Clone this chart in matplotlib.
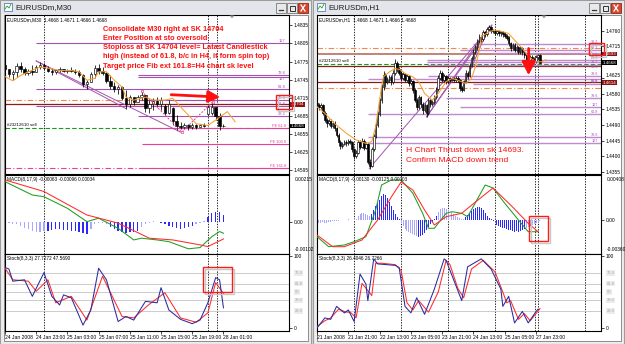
import matplotlib
matplotlib.use("Agg")
import matplotlib.pyplot as plt
from matplotlib.patches import Rectangle, Polygon

plt.rcParams['font.family'] = ['Liberation Sans', 'DejaVu Sans']

W, H = 625, 344

# ---------------- M30 chart (left) ----------------
m30_open = [14770,14762,14754,14757,14768,14762,14756,14760,14758,14766,
            14770,14764,14760,14757,14761,14763,14760,14761,14759,14757,
            14752,14738,14741,14755,14765,14760,14756,14742,14735,14730,
            14732,14715,14705,14716,14708,14716,14719,14698,14705,14710,
            14704,14702,14690,14698,14676,14668,14666,14670,14666,14669,
            14667,14669,14688,14690,14700,14685,14668]
m30_close = [14762,14754,14758,14768,14762,14756,14760,14758,14766,14770,
             14764,14760,14757,14761,14763,14760,14761,14759,14757,14752,
             14738,14741,14755,14765,14760,14756,14742,14735,14730,14732,
             14715,14705,14716,14708,14716,14719,14698,14705,14710,14704,
             14712,14690,14705,14676,14668,14666,14670,14666,14669,14667,
             14669,14668,14700,14700,14685,14668,14668]
m30_high = [14777,14763,14761,14772,14775,14766,14763,14769,14769,14775,
            14772,14767,14763,14763,14766,14763,14763,14766,14763,14761,
            14755,14744,14758,14769,14771,14766,14758,14753,14741,14736,
            14734,14728,14720,14716,14720,14725,14720,14711,14714,14716,
            14716,14705,14711,14700,14686,14675,14673,14671,14673,14672,
            14672,14673,14703,14707,14700,14689,14671]
m30_low = [14758,14750,14744,14750,14758,14753,14753,14753,14758,14763,
           14761,14758,14753,14755,14758,14758,14756,14758,14755,14750,
           14733,14730,14741,14747,14755,14753,14739,14730,14725,14722,
           14711,14697,14700,14703,14708,14711,14692,14689,14694,14700,
           14694,14686,14688,14670,14662,14664,14664,14662,14664,14664,
           14666,14666,14686,14686,14678,14662,14666]
m30_ma_idx = [0,2,4,6,9,12,14,17,19,21,23,24,26,28,30,31,33,36,38,41,43,45,47,49,52,54,57,59]
m30_ma = [14750,14743,14752,14758,14766,14763,14760,14760,14758,14744,14747,14758,14758,14744,
          14733,14716,14711,14716,14711,14711,14714,14700,14686,14672,14669,14678,14692,14675]

m30_hist = [-0.00003,-0.00005,-0.0001,-0.00008,
            -0.00018,-0.00025,-0.0003,-0.00035,-0.0004,-0.0004,-0.00038,
            -0.00035,-0.00032,-0.0003,-0.0003,-0.00032,-0.00034,-0.00035,-0.00038,-0.0004,-0.00045,
            -0.0005,
            -0.0003,-0.0001,-0.00005,-0.00005,-0.0001,
            -0.0002,-0.00028,-0.00035,-0.0004,-0.00045,-0.00042,-0.0004,-0.00035,
            -0.0002,-0.0001,-0.00003,0.00002,0.00001,
            -0.00005,-0.0001,-0.00015,-0.0002,-0.00025,-0.00028,-0.00025,-0.0002,
            -0.00015,-0.0001,-0.00005,0.00003,
            0.0002,0.00035,0.00042,0.0004,0.0003]
m30_macd_idx = [0,7,10,16,21,24,29,33,35,39,42,47,50,53,55,56]
m30_macd = [0.00163,0.00109,0.00102,0.00055,0.00001,0.00015,-0.00026,-0.00073,
            -0.00066,-0.00073,-0.0008,-0.00109,-0.00104,-0.0006,-0.00039,-0.00046]
m30_sig_idx = [0,10,21,29,37,43,50,52,56]
m30_sig = [0.0017,0.00123,0.00028,-0.00005,-0.00066,-0.00073,-0.00093,-0.001,-0.00069]

m30_k_idx = [0,1,2,5,7,10,12,14,15,17,20,22,24,26,29,31,33,36,39,40,42,45,48,50,52,54,55,56]
m30_k = [84,82,65,67,44,77,44,32,46,42,4,25,83,67,9,16,11,37,35,56,25,12,6,11,35,70,67,28]
m30_d_idx = [0,2,6,8,11,13,17,21,25,30,33,37,41,45,49,52,54,56]
m30_d = [83,67,65,51,67,35,44,11,72,16,14,33,49,14,8,21,63,48]

m30_ticks = [0, 8, 16, 24, 32, 40, 48, 56]
m30_tick_labels = ["24 Jan 2008", "24 Jan 23:00", "25 Jan 03:00", "25 Jan 07:00",
                   "25 Jan 11:00", "25 Jan 15:00", "25 Jan 19:00", "28 Jan 01:00"]
m30_vlines = [10, 52, 54.3]
m30_yticks = [1.4595, 1.4625, 1.4655, 1.4685, 1.4715, 1.4745, 1.4775, 1.4805, 1.4835]

# fib levels: price, start bar, label, label placement
m30_fib = [(1.4806, 8, "127", 'bottom'), (1.4753, 34, "78.6", 'bottom'), (1.4750, 34, "127", 'top'),
           (1.4730, 8, "61.8", 'bottom'), (1.4712, 34, "78.6", 'bottom'), (1.4701, 8, "61.8", 'bottom'),
           (1.4684, 34, "38.2", 'bottom')]
m30_fe = [(1.4665, 35, "FE 61.8"), (1.4639, 35, "FE 100.0"), (1.4599, 35, "FE 161.8")]

# ---------------- H1 chart (right) ----------------
h1_open = [14552,14548,14540,14546,14525,14505,14495,14500,14486,14495,
           14480,14462,14442,14430,14436,14441,14437,14445,14440,14420,
           14402,14410,14440,14428,14445,14425,14435,14385,14372,14420,
           14458,14490,14522,14560,14598,14632,14612,14620,14626,14614,
           14640,14668,14650,14640,14624,14636,14620,14630,14610,14616,
           14590,14562,14540,14570,14550,14532,14546,14524,14560,14550,
           14556,14570,14592,14625,14640,14620,14630,14615,14625,14620,
           14622,14618,14625,14620,14596,14590,14615,14640,14630,14660,
           14682,14700,14712,14730,14742,14736,14755,14750,14765,14770,
           14760,14760,14754,14758,14752,14755,14750,14744,14740,14724,
           14710,14720,14705,14712,14700,14710,14698,14690,14680,14670,
           14685,14680,14672,14685,14690]
h1_close = [14548,14540,14546,14525,14505,14495,14500,14486,14495,14480,
            14462,14442,14430,14436,14441,14437,14445,14440,14420,14402,
            14410,14440,14428,14445,14425,14435,14385,14372,14420,14458,
            14490,14522,14560,14598,14632,14612,14620,14626,14614,14640,
            14668,14650,14640,14624,14636,14620,14630,14610,14616,14590,
            14562,14540,14570,14550,14532,14546,14524,14560,14550,14556,
            14570,14592,14625,14640,14620,14630,14615,14625,14620,14622,
            14618,14625,14620,14596,14590,14615,14640,14630,14660,14682,
            14700,14712,14730,14742,14736,14755,14750,14765,14770,14760,
            14760,14754,14758,14752,14755,14750,14744,14740,14724,14710,
            14720,14705,14712,14700,14710,14698,14690,14680,14670,14685,
            14680,14672,14685,14690,14668]
h1_high = [14560,14554,14552,14550,14530,14510,14508,14506,14502,14500,
           14485,14466,14448,14442,14447,14446,14450,14450,14444,14425,
           14418,14446,14448,14452,14450,14442,14438,14392,14426,14465,
           14498,14530,14568,14606,14645,14638,14628,14634,14632,14648,
           14680,14672,14656,14645,14642,14640,14636,14634,14622,14620,
           14595,14568,14576,14574,14555,14552,14550,14566,14565,14562,
           14576,14598,14632,14646,14644,14636,14634,14630,14628,14627,
           14626,14630,14629,14623,14602,14620,14646,14645,14666,14688,
           14708,14720,14737,14750,14748,14762,14760,14772,14777,14774,
           14766,14764,14763,14762,14760,14759,14755,14750,14744,14728,
           14726,14724,14718,14716,14716,14714,14702,14694,14685,14690,
           14689,14684,14690,14694,14693]
h1_low = [14540,14534,14535,14518,14498,14485,14490,14480,14482,14472,
          14455,14430,14422,14425,14432,14430,14433,14434,14412,14392,
          14396,14406,14420,14424,14418,14420,14378,14365,14368,14415,
          14452,14484,14515,14552,14590,14600,14606,14612,14605,14608,
          14634,14642,14632,14615,14618,14612,14614,14602,14604,14582,
          14555,14532,14535,14542,14522,14526,14513,14518,14542,14545,
          14550,14565,14586,14618,14612,14614,14608,14610,14614,14615,
          14612,14613,14612,14588,14583,14586,14610,14622,14626,14655,
          14676,14694,14706,14725,14728,14730,14742,14746,14758,14752,
          14752,14747,14748,14745,14746,14743,14738,14732,14716,14702,
          14705,14698,14700,14692,14694,14690,14682,14672,14664,14666,
          14674,14666,14668,14680,14666]
h1_ma_idx = [0,4,9,15,20,25,28,30,33,34,37,40,43,45,49,52,55,59,62,66,69,72,76,79,81,83,84,88,91,95,98,101,105,108,112,115,117]
h1_ma = [14542,14523,14494,14466,14447,14437,14442,14485,14600,14628,14642,14652,14647,14637,
         14628,14614,14580,14561,14580,14614,14623,14618,14609,14623,14657,14705,14743,14757,
         14762,14757,14752,14733,14709,14686,14671,14671,14677]

h1_hist = [-0.0002,-0.0003,-0.0003,-0.0002,-0.0003,-0.0003,-0.0002,-0.0002,-0.0001,-0.0001,-0.00005,-0.0001,
           0.00005,0,0.00005,0,0.0001,0.00005,0,0.0001,0.00015,
           0.0004,0.0006,0.0007,0.0007,0.0006,0.0005,0.0004,
           0.0006,0.0010,0.0014,0.0017,0.0020,0.0024,0.0026,0.0025,0.0022,0.0018,
           0.0014,0.001,0.0006,0.0003,0.0001,
           -0.0003,-0.0006,-0.0009,-0.0011,-0.0012,-0.0013,-0.0014,-0.0015,-0.0016,-0.0017,
           -0.0016,-0.0015,-0.0013,-0.001,-0.0007,
           -0.0004,-0.0002,0.0001,0.0004,
           0.0008,0.0011,0.0012,0.0012,0.0011,0.0010,0.0009,0.0008,0.0006,
           0.0004,0.0003,0.0002,0.0001,0.0001,
           0.0003,0.0005,0.0007,0.0009,0.0011,0.0012,0.0013,0.0013,0.0012,0.0010,
           0.0007,0.0004,0.0002,0.0001,-0.0001,
           -0.0003,-0.0005,-0.0006,-0.0007,-0.0008,-0.0008,-0.0009,-0.001,-0.001,-0.0011,
           -0.0012,-0.0011,-0.0012,-0.0011,-0.001,-0.0009,
           -0.0008,-0.0007,-0.0006,-0.0005,-0.0004,-0.0003,-0.0002,-0.0001]
h1_macd_idx = [0,6,14,19,25,30,33,38,43,49,54,57,60,66,69,74,77,86,90,96,103,108,113]
h1_macd = [-0.00167,-0.00267,-0.0025,-0.00217,-0.00167,0.001,0.0035,0.004,0.004,0.00267,0.00067,
           -0.00083,-0.00083,0.00067,0.00083,0.00067,0.00033,0.0035,0.0032,0.00167,0,-0.00117,-0.00117]
h1_sig_idx = [0,8,14,23,31,38,43,49,55,60,66,74,81,90,100,108,113]
h1_sig = [-0.0015,-0.00267,-0.00267,-0.002,0,0.0023,0.0038,0.003,0.001,-0.0005,0.00033,
          0.00067,0.0018,0.0032,0.0013,-0.00033,-0.00117]

h1_k_idx = [0,4,7,10,14,16,19,22,25,26,29,31,40,42,45,48,51,55,60,65,66,71,74,77,84,89,94,95,98,101,105,108,112,113]
h1_k = [0,14,12,30,21,25,9,75,61,38,96,89,87,84,30,21,42,19,54,96,94,59,38,85,96,82,54,30,44,7,23,7,23,26]
h1_d_idx = [0,4,7,11,15,17,20,23,26,28,30,33,40,43,46,49,52,57,62,66,68,72,75,79,85,91,95,97,99,103,106,109,112,114]
h1_d = [2,10,14,26,22,22,14,62,52,45,90,90,88,80,35,25,38,22,50,94,88,55,42,82,94,78,50,35,38,12,20,10,20,27]

h1_ticks = [0, 16, 32, 48, 64, 80, 96, 112]
h1_tick_labels = ["21 Jan 2008", "21 Jan 21:00", "22 Jan 13:00", "23 Jan 05:00",
                  "23 Jan 21:00", "24 Jan 13:00", "25 Jan 05:00", "27 Jan 23:00"]
h1_vlines = [19, 43, 67, 91, 111.5, 113, 137]
# 1.4670 is hidden behind the current-price box in the reference
h1_yticks = [1.4355, 1.4400, 1.4445, 1.4490, 1.4535, 1.4580, 1.4625, 1.4715, 1.4760]

h1_fib = [(1.4723, 80, "38.2", 'bottom'), (1.4706, 73, "38.2", 'bottom'), (1.4695, 90, "61.8", 'top'),
          (1.4676, 56, "23.6", 'bottom'), (1.4670, 56, "38.2", 'center'), (1.4663, 56, "50.0", 'top'),
          (1.4630, 57, "78.6", 'bottom'), (1.4622, 26, "50.0", 'top'), (1.4606, 80, "61.8", 'bottom'),
          (1.4568, 66, "78.6", 'bottom'), (1.4540, 73, "127", 'bottom'), (1.4521, 26, "61.8", 'bottom'),
          (1.4454, 26, "78.6", 'bottom'), (1.4439, 26, "127", 'bottom')]

stoch_levels = [23.6, 38.2, 50, 61.8, 76.4]

PURPLE = '#a452b0'
LPURPLE = '#c08ad0'
PINK = '#e8409c'
ORANGE = '#f4884a'
BROWN = '#8c1c1c'
GREEN = '#12a012'


def p(v):
    return [x / 10000 for x in v]


fig = plt.figure(figsize=(6.25, 3.44), dpi=100)
fig.patch.set_facecolor('#d6d6d6')


def px_axes(x, y, w, h):
    return fig.add_axes([x / W, 1 - (y + h) / H, w / W, h / H])


# window chrome
bg = px_axes(0, 0, W, H)
bg.set_xlim(0, W)
bg.set_ylim(H, 0)
bg.axis('off')


def window(x0, x1, title):
    w = x1 - x0
    bg.add_patch(Rectangle((x0, 0), w, H, fc='#ededed', ec='#9c9c9c', lw=0.8))
    bg.add_patch(Rectangle((x0 + 1, 1), w - 2, 13, fc='#e2e5ea', ec='none'))
    bg.add_patch(Rectangle((x0 + 4, 3), 8, 8, fc='#ffffff', ec='#5a7fb0', lw=0.6))
    bg.plot([x0 + 5, x0 + 7, x0 + 9, x0 + 11], [9, 6, 8, 4], color='#2a9a2a', lw=0.6)
    bg.text(x0 + 15, 7.5, title, fontsize=5.6, va='center', ha='left', color='#1a1a1a')
    for k, (fc, ec) in enumerate([('#e9e9e9', '#7a7a7a'), ('#e9e9e9', '#7a7a7a'), ('#d8472e', '#8a2a1a')]):
        bx = x1 - 35 + k * 11
        bg.add_patch(Rectangle((bx, 3), 10, 10, fc=fc, ec=ec, lw=0.6))
    bx = x1 - 35
    bg.plot([bx + 3, bx + 7], [10, 10], color='#333333', lw=0.9)
    bg.add_patch(Rectangle((bx + 13.5, 5.5), 5, 5, fc='none', ec='#333333', lw=0.7))
    bg.plot([bx + 25, bx + 29], [5, 11], color='white', lw=0.9)
    bg.plot([bx + 25, bx + 29], [11, 5], color='white', lw=0.9)
    bg.add_patch(Rectangle((x0 + 4, 15), w - 7, 326, fc='white', ec='#7a7a7a', lw=0.6))


window(0, 311, "EURUSDm,M30")
window(313, 624, "EURUSDm,H1")


def style(ax, xmax):
    ax.set_xlim(0, xmax)
    ax.set_facecolor('white')
    for s in ax.spines.values():
        s.set_color('black')
        s.set_linewidth(0.8)
    ax.yaxis.tick_right()
    ax.tick_params(axis='y', direction='out', length=2, width=0.5, labelsize=3.5, pad=1.2)
    ax.tick_params(axis='x', bottom=False, labelbottom=False)


def candles(ax, o, h, l, c, width):
    o, h, l, c = p(o), p(h), p(l), p(c)
    xs = list(range(len(o)))
    ax.vlines(xs, l, h, color='black', lw=0.55, zorder=3)
    for x, oo, cc in zip(xs, o, c):
        lo, hi = min(oo, cc), max(oo, cc)
        ax.add_patch(Rectangle((x - width / 2, lo), width, max(hi - lo, 0.00002),
                               fc='black' if cc < oo else 'white', ec='black', lw=0.45, zorder=4))


def vdash(axes, xs):
    for ax in axes:
        for x in xs:
            ax.axvline(x, color='black', lw=0.6, ls=(0, (1.6, 1.6)), zorder=1)


def value_box(ax, y, text, fc, dy=0):
    ax.annotate(text, xy=(1.006, y), xycoords=ax.get_yaxis_transform(),
                xytext=(0, dy), textcoords='offset points', fontsize=3.2, color='white',
                ha='left', va='center', bbox=dict(fc=fc, ec='none', pad=0.3), zorder=6,
                annotation_clip=False)


def stoch_pane(ax, k_idx, k, d_idx, d, header):
    ax.set_ylim(-4.2, 102.8)
    for lv in stoch_levels:
        ax.axhline(lv, color='#c4c4c4', lw=0.6, zorder=1)
        ax.text(1.02, lv, f"{lv:g}", transform=ax.get_yaxis_transform(), fontsize=3.0,
                color='#a8a8a8', va='center', ha='left',
                bbox=dict(fc='#ececec', ec='none', pad=0.4), clip_on=False)
    ax.plot(d_idx, d, color='#ff2a2a', lw=0.75, zorder=3)
    ax.plot(k_idx, k, color='#2a2aa0', lw=0.75, zorder=4)
    ax.set_yticks([0, 100])
    ax.set_yticklabels(["0", "100"])
    ax.text(0.008, 0.97, header, transform=ax.transAxes, fontsize=3.4, va='top', ha='left')


def macd_pane(ax, hist, light, m_idx, m, s_idx, s, ylim, top, bottom, header):
    ax.set_ylim(*ylim)
    cols = []
    for i in range(len(hist)):
        lt = any(a <= i < b for a, b in light)
        cols.append('#a8a8ff' if lt else '#2828ff')
    ax.bar(range(len(hist)), hist, width=0.35 if len(hist) < 80 else 0.5, color=cols, zorder=2)
    ax.plot(m_idx, m, color='#1e9e1e', lw=0.75, zorder=3)
    ax.plot(s_idx, s, color='#ff2a2a', lw=0.75, zorder=4)
    ax.set_yticks([0])
    ax.set_yticklabels(["0.00"])
    ax.text(1.02, 0.98, top, transform=ax.transAxes, fontsize=3.5, va='top', ha='left')
    ax.text(1.02, 0.02, bottom, transform=ax.transAxes, fontsize=3.5, va='bottom', ha='left')
    ax.text(0.008, 0.97, header, transform=ax.transAxes, fontsize=3.4, va='top', ha='left')


def time_axis(ax, ticks, labels):
    ax.tick_params(axis='x', bottom=True, labelbottom=True, direction='out', length=2,
                   width=0.5, labelsize=3.6, pad=1)
    ax.set_xticks(ticks)
    ax.set_xticklabels(labels)
    for t in ax.get_xticklabels():
        t.set_ha('left')


# ---------- left window ----------
LX = 72.8
pa = px_axes(5, 15, 284, 159)
ma = px_axes(5, 175, 284, 79)
sa = px_axes(5, 254, 284, 77)
for a in (pa, ma, sa):
    style(a, LX)
pa.set_ylim(1.45886, 1.48521)
pa.set_yticks(m30_yticks)
pa.set_yticklabels([f"{v:.4f}" for v in m30_yticks])
vdash((pa, ma, sa), m30_vlines)

pa.axhline(1.4711, color=ORANGE, lw=0.8, ls=(0, (5, 2, 1, 2)), zorder=2)
pa.axhline(1.4704, color=BROWN, lw=0.9, zorder=2)
pa.axhline(1.4665, color=GREEN, lw=0.8, ls=(0, (4, 2)), zorder=2)
pa.axhline(1.4599, color=PINK, lw=0.8, ls=(0, (5, 2, 1, 2)), zorder=2)
for y, x0, lab, va in m30_fib:
    pa.hlines(y, x0, LX, color=PURPLE, lw=0.8, zorder=2)
    pa.text(LX - 0.8, y, lab, fontsize=2.9, color=PURPLE, ha='right', va=va)
for y, x0, lab in m30_fe:
    pa.hlines(y, x0, LX, color=PINK, lw=0.8, zorder=2)
    pa.text(LX - 0.8, y, lab, fontsize=2.9, color=PINK, ha='right', va='bottom')
pa.plot([8, 31], [1.4776, 1.4697], color=PURPLE, lw=0.7, zorder=2)
pa.plot([8, 45], [1.4776, 1.4658], color=PURPLE, lw=0.7, zorder=2)
pa.plot([35, 45.3, 53.2], [1.4726, 1.4658, 1.4708], color=PINK, lw=0.7, ls=(0, (2, 1.5)),
        marker='s', ms=2, mfc='white', mec=PINK, mew=0.5, zorder=5)
candles(pa, m30_open, m30_high, m30_low, m30_close, 0.62)
pa.plot(m30_ma_idx, p(m30_ma), color='#f5a030', lw=0.75, zorder=5)
pa.text(0.5, 1.4667, "#23212610 sell", fontsize=3.2, va='bottom', ha='left')
pa.text(0.008, 0.985, "EURUSDm,M30  1.4668 1.4671 1.4666 1.4668", transform=pa.transAxes,
        fontsize=3.4, va='top', ha='left')
value_box(pa, 1.4704, "1.4704", '#8c1010')
value_box(pa, 1.4668, "1.4668", '#000000')
pa.annotate('', xy=(55.2, 1.4716), xytext=(42.6, 1.4720),
            arrowprops=dict(arrowstyle='-|>,head_length=0.7,head_width=0.35', color='#ff1010',
                            lw=2.0, shrinkA=0, shrinkB=0), zorder=7)

macd_pane(ma, m30_hist, [(0, 11), (22, 27), (35, 40), (49, 52)], m30_macd_idx, m30_macd,
          m30_sig_idx, m30_sig, (-0.0013, 0.0019), "0.00215", "-0.00102",
          "MACD(8,17,9) -0.00063 -0.00096 0.00034")
stoch_pane(sa, m30_k_idx, m30_k, m30_d_idx, m30_d, "Stoch(8,3,3) 27.7272 47.5690")
time_axis(sa, m30_ticks, m30_tick_labels)

# ---------- right window ----------
RX = 145.2
pb = px_axes(317, 15, 284, 159)
mb = px_axes(317, 175, 284, 79)
sb = px_axes(317, 254, 284, 77)
for a in (pb, mb, sb):
    style(a, RX)
pb.set_ylim(1.43493, 1.48050)
pb.set_yticks(h1_yticks)
pb.set_yticklabels([f"{v:.4f}" for v in h1_yticks])
# the tick label right above the 1.4614 box sits a touch higher, as in MetaTrader
pb.get_yticklabels()[6].set_va('bottom')
vdash((pb, mb, sb), h1_vlines)

pb.axhline(1.4709, color=ORANGE, lw=0.8, ls=(0, (5, 2, 1, 2)), zorder=2)
pb.axhline(1.4693, color='#c08478', lw=1.4, zorder=2)
pb.axhline(1.4664, color=GREEN, lw=0.8, ls=(0, (4, 2)), zorder=2)
pb.axhline(1.4659, color=BROWN, lw=0.9, zorder=2)
pb.axhline(1.4614, color=BROWN, lw=0.9, zorder=2)
pb.axhline(1.4597, color=ORANGE, lw=0.8, ls=(0, (5, 2, 1, 2)), zorder=2)
for y, x0, lab, va in h1_fib:
    pb.hlines(y, x0, RX, color=LPURPLE, lw=1.0, zorder=2)
    pb.text(RX - 1.5, y, lab, fontsize=2.7, color=PURPLE, ha='right', va=va)
pb.plot([26.7, 89.4], [1.4365, 1.4776], color=PURPLE, lw=0.7, zorder=2)
pb.plot([56, 89.4], [1.4513, 1.4776], color=PURPLE, lw=0.7, zorder=2)
pb.plot([56, 86], [1.4513, 1.4757], color=PURPLE, lw=0.7, zorder=2)
pb.plot([74, 88], [1.4590, 1.4772], color=PURPLE, lw=0.7, zorder=2)
candles(pb, h1_open, h1_high, h1_low, h1_close, 0.8)
pb.plot(h1_ma_idx, p(h1_ma), color='#f5a030', lw=0.75, zorder=5)
pb.text(1.0, 1.4667, "#23212610 sell", fontsize=3.2, va='bottom', ha='left')
pb.text(0.008, 0.985, "EURUSDm,H1  1.4668 1.4671 1.4666 1.4668", transform=pb.transAxes,
        fontsize=3.4, va='top', ha='left')
value_box(pb, 1.4693, "1.4693", '#8c1010')
value_box(pb, 1.4668, "1.4668", '#000000')
value_box(pb, 1.4614, "1.4614", '#8c1010', dy=-0.8)
pb.annotate('', xy=(108.2, 1.4632), xytext=(108.2, 1.4709),
            arrowprops=dict(arrowstyle='-|>,head_length=0.8,head_width=0.4', color='#ff1010',
                            lw=2.0, shrinkA=0, shrinkB=0), zorder=7)

macd_pane(mb, h1_hist, [(0, 28), (43, 52), (62, 76), (107, 115)], h1_macd_idx, h1_macd,
          h1_sig_idx, h1_sig, (-0.0034, 0.0045), "0.00408", "-0.00360",
          "MACD(8,17,9) -0.00130 -0.00125 0.00003")
stoch_pane(sb, h1_k_idx, h1_k, h1_d_idx, h1_d, "Stoch(8,3,3) 26.4046 26.7266")
time_axis(sb, h1_ticks, h1_tick_labels)

# ---------- overlay annotations ----------
ov = px_axes(0, 0, W, H)
ov.set_xlim(0, W)
ov.set_ylim(H, 0)
ov.axis('off')
ov.patch.set_alpha(0)
notes_left = ["Consolidate M30 right at SK 14704",
              "Enter Position at sto oversold",
              "Stoploss at SK 14704 level= Latast Candlestick",
              "high (instead of 61.8, b/c in H4, it form spin top)",
              "Target price Fib ext 161.8=H4 chart sk level"]
for k, line in enumerate(notes_left):
    ov.text(103, 29.3 + k * 9.2, line, fontsize=5.3, fontweight='bold', color='#ff1010',
            ha='left', va='center')
notes_right = ["H Chart Thrust down sk 14693.", "Confirm MACD down trend"]
for k, line in enumerate(notes_right):
    ov.text(406, 150 + k * 11, line, fontsize=6.1, color='#ff1010', ha='left', va='center')
for (x, y, w, h) in [(276, 95, 16, 14), (203, 267, 29, 25), (529, 216, 19, 25), (589, 43, 15, 12)]:
    ov.add_patch(Rectangle((x + 1.5, y + 1.5), w, h, fc='none', ec='#c8c8c8', lw=1.0))
    ov.add_patch(Rectangle((x, y), w, h, fc='none', ec='#ff1a1a', lw=1.0))
for x in (232, 544):
    ov.add_patch(Polygon([(x - 2.5, 15.5), (x + 2.5, 15.5), (x, 18.5)], closed=True, fc='#9a9a9a', ec='none'))

fig.savefig("out.png", dpi=100, facecolor=fig.get_facecolor())
